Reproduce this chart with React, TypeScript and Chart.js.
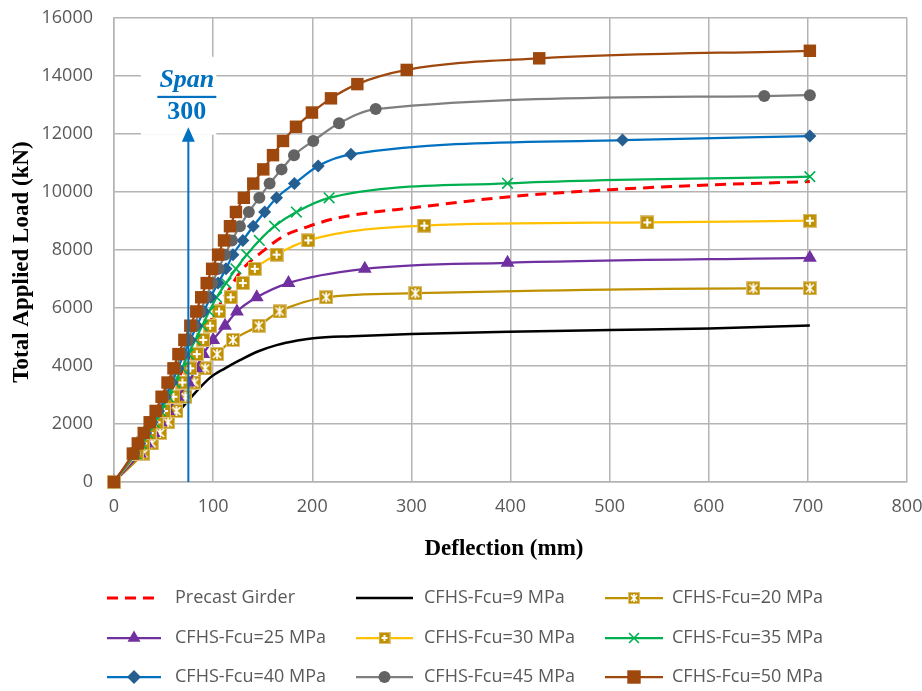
import React, { useEffect, useRef } from 'react';
import { Chart, registerables } from 'chart.js';

Chart.register(...registerables);

// ---------- data (deflection mm, load kN) ----------
const precastDefl = [0, 22, 60, 90, 110, 130, 150, 170, 195, 220, 250, 300, 400, 500, 600, 702];
const precastLoad = [0, 1000, 3300, 5100, 6300, 7350, 7950, 8460, 8800, 9060, 9250, 9450, 9840, 10080, 10240, 10360];

const fcu9Defl = [0, 68, 77, 97, 112, 127, 145, 164, 185, 201, 240, 300, 398, 500, 600, 702];
const fcu9Load = [0, 2540, 2890, 3600, 3920, 4200, 4500, 4720, 4880, 4960, 5030, 5100, 5180, 5240, 5290, 5400];

const fcu20Defl = [0, 29.6, 38, 46.5, 54.6, 63, 72, 81, 92, 104, 120, 146, 167, 214, 304, 645, 702];
const fcu20Load = [0, 980, 1330, 1690, 2060, 2450, 2940, 3430, 3920, 4410, 4900, 5390, 5880, 6370, 6510, 6680, 6680];

const fcu25Defl = [0, 26, 33, 40, 47, 54.5, 64, 75, 83, 90, 100, 112, 124, 144, 176, 253, 397, 702];
const fcu25Load = [0, 980, 1330, 1690, 2060, 2450, 2940, 3430, 3920, 4410, 4900, 5390, 5880, 6370, 6860, 7350, 7560, 7730];

const fcu30Defl = [0, 23, 29.5, 36, 43, 50.5, 60, 69, 77, 83.5, 90, 97, 106, 117.7, 130, 142, 164, 196, 313, 538, 702];
const fcu30Load = [0, 980, 1330, 1690, 2060, 2450, 2940, 3430, 3920, 4410, 4900, 5390, 5880, 6370, 6860, 7350, 7840, 8330, 8840, 8950, 9010];

const fcu35Defl = [0, 21.5, 27.5, 34, 40.5, 47, 54.5, 61.5, 68.5, 75, 82, 89, 96, 103.6, 113, 123, 134, 146.6, 162, 184, 217, 397, 702];
const fcu35Load = [0, 980, 1330, 1690, 2060, 2450, 2940, 3430, 3920, 4410, 4900, 5390, 5880, 6370, 6860, 7350, 7840, 8330, 8820, 9310, 9800, 10300, 10530];

const fcu40Defl = [0, 20.5, 26, 32, 38.5, 45, 52, 58.5, 64.5, 70.5, 77, 83.5, 90.5, 97.5, 105, 113, 120, 130, 140.5, 152, 164, 182, 206, 239, 513, 702];
const fcu40Load = [0, 980, 1330, 1690, 2060, 2450, 2940, 3430, 3920, 4410, 4900, 5390, 5880, 6370, 6860, 7350, 7840, 8330, 8820, 9310, 9800, 10290, 10900, 11300, 11790, 11930];

const fcu45Defl = [0, 20, 25, 31, 37.5, 43.5, 50, 56, 62.5, 68, 74.5, 80.5, 87, 93, 99, 105.5, 112, 119, 127, 136, 146.6, 157, 169, 181.6, 201, 227, 264, 656, 702];
const fcu45Load = [0, 980, 1330, 1690, 2060, 2450, 2940, 3430, 3920, 4410, 4900, 5390, 5880, 6370, 6860, 7350, 7840, 8330, 8820, 9310, 9800, 10290, 10780, 11270, 11760, 12370, 12860, 13310, 13340];

const fcu50Defl = [0, 19, 24, 30, 36, 42, 48, 54, 60, 65, 71, 77, 83, 88, 93.5, 99, 105, 111, 117, 123, 131, 140.5, 150.6, 160.4, 170.5, 183.6, 199.7, 218.9, 245.5, 295.3, 429, 702];
const fcu50Load = [0, 980, 1330, 1690, 2060, 2450, 2940, 3430, 3920, 4410, 4900, 5390, 5880, 6370, 6860, 7350, 7840, 8330, 8820, 9310, 9800, 10290, 10780, 11270, 11760, 12250, 12740, 13230, 13720, 14210, 14610, 14870];

const seriesLabels = [
  'Precast Girder', 'CFHS-Fcu=9 MPa', 'CFHS-Fcu=20 MPa',
  'CFHS-Fcu=25 MPa', 'CFHS-Fcu=30 MPa', 'CFHS-Fcu=35 MPa',
  'CFHS-Fcu=40 MPa', 'CFHS-Fcu=45 MPa', 'CFHS-Fcu=50 MPa',
];

const xTickMin = 0, xTickMax = 800, xTickStep = 100;
const yTickMin = 0, yTickMax = 16000, yTickStep = 2000;
const xTitle = 'Deflection (mm)';
const yTitle = 'Total Applied Load (kN)';

const spanLabelTop = 'Span';
const spanLabelBottom = '300';
const spanDeflection = 75; // mm, span/300
const arrowTipLoad = 12230;

// ---------- helpers ----------
const GRID = '#B4B4B4';
const TICK_FONT = 'Open Sans';
const SERIF = 'Liberation Serif';

function squareMarker(kind: 'plus' | 'star', size: number) {
  const c = document.createElement('canvas');
  c.width = size; c.height = size;
  const g = c.getContext('2d')!;
  g.fillStyle = '#BF9000';
  g.fillRect(0, 0, size, size);
  g.strokeStyle = '#DCC07A';
  g.lineWidth = 1;
  g.strokeRect(0.5, 0.5, size - 1, size - 1);
  g.strokeStyle = '#FFFFFF';
  g.lineCap = 'butt';
  const m = size / 2, a = 3, b = size - 3;
  g.beginPath();
  if (kind === 'plus') {
    g.lineWidth = 2;
    g.moveTo(m, a); g.lineTo(m, b);
    g.moveTo(a, m); g.lineTo(b, m);
  } else {
    g.lineWidth = 1.7;
    g.moveTo(a, a); g.lineTo(b, b);
    g.moveTo(b, a); g.lineTo(a, b);
    g.moveTo(m, a - 1); g.lineTo(m, b + 1);
  }
  g.stroke();
  return c;
}

function pts(xs: number[], ys: number[]) {
  return xs.map((x, i) => ({ x, y: ys[i] }));
}

type MarkerKind = 'none' | 'rect' | 'circle' | 'rectRot' | 'triangle' | 'crossRot' | HTMLCanvasElement;

function drawMarker(ctx: CanvasRenderingContext2D, kind: MarkerKind, x: number, y: number, r: number, fill: string) {
  if (kind === 'none') return;
  ctx.save();
  if (kind instanceof HTMLCanvasElement) {
    ctx.drawImage(kind, x - kind.width / 2, y - kind.height / 2);
    ctx.restore();
    return;
  }
  ctx.fillStyle = fill; ctx.strokeStyle = fill; ctx.lineWidth = 1.6;
  ctx.beginPath();
  if (kind === 'rect') {
    const s = r * Math.SQRT1_2;
    ctx.rect(x - s, y - s, 2 * s, 2 * s);
    ctx.fill();
  } else if (kind === 'circle') {
    ctx.arc(x, y, r, 0, Math.PI * 2);
    ctx.fill();
  } else if (kind === 'rectRot') {
    ctx.moveTo(x, y - r); ctx.lineTo(x + r, y); ctx.lineTo(x, y + r); ctx.lineTo(x - r, y); ctx.closePath();
    ctx.fill();
  } else if (kind === 'triangle') {
    const w = r * 0.866;
    ctx.moveTo(x, y - r); ctx.lineTo(x + w, y + r / 2); ctx.lineTo(x - w, y + r / 2); ctx.closePath();
    ctx.fill();
  } else if (kind === 'crossRot') {
    const s = r * Math.SQRT1_2;
    ctx.moveTo(x - s, y - s); ctx.lineTo(x + s, y + s);
    ctx.moveTo(x + s, y - s); ctx.lineTo(x - s, y + s);
    ctx.stroke();
  }
  ctx.restore();
}

export default function App() {
  const ref = useRef<HTMLCanvasElement | null>(null);

  useEffect(() => {
    document.body.style.margin = '0';
    const canvas = ref.current!;
    const starMarker = squareMarker('star', 14);
    const plusMarker = squareMarker('plus', 14);
    const starLegend = squareMarker('star', 12);
    const plusLegend = squareMarker('plus', 12);

    const defs = [
      { d: pts(precastDefl, precastLoad), color: '#FF0000', mk: 'none' as MarkerKind, r: 0, fill: '#FF0000', dash: [11, 7], w: 3, lmk: 'none' as MarkerKind, lr: 0 },
      { d: pts(fcu9Defl, fcu9Load), color: '#000000', mk: 'none' as MarkerKind, r: 0, fill: '#000', dash: [], w: 2.5, lmk: 'none' as MarkerKind, lr: 0 },
      { d: pts(fcu20Defl, fcu20Load), color: '#BF9000', mk: starMarker as MarkerKind, r: 7, fill: '#BF9000', dash: [], w: 2.25, lmk: starLegend as MarkerKind, lr: 6 },
      { d: pts(fcu25Defl, fcu25Load), color: '#7030A0', mk: 'triangle' as MarkerKind, r: 8, fill: '#7030A0', dash: [], w: 2.25, lmk: 'triangle' as MarkerKind, lr: 7.5 },
      { d: pts(fcu30Defl, fcu30Load), color: '#FFC000', mk: plusMarker as MarkerKind, r: 7, fill: '#BF9000', dash: [], w: 2.25, lmk: plusLegend as MarkerKind, lr: 6 },
      { d: pts(fcu35Defl, fcu35Load), color: '#00B050', mk: 'crossRot' as MarkerKind, r: 7.5, fill: '#00B050', dash: [], w: 2.25, lmk: 'crossRot' as MarkerKind, lr: 7 },
      { d: pts(fcu40Defl, fcu40Load), color: '#0070C0', mk: 'rectRot' as MarkerKind, r: 6.5, fill: '#255E91', dash: [], w: 2.25, lmk: 'rectRot' as MarkerKind, lr: 7 },
      { d: pts(fcu45Defl, fcu45Load), color: '#7F7F7F', mk: 'circle' as MarkerKind, r: 6, fill: '#636363', dash: [], w: 2.25, lmk: 'circle' as MarkerKind, lr: 6 },
      { d: pts(fcu50Defl, fcu50Load), color: '#9E480E', mk: 'rect' as MarkerKind, r: 8.8, fill: '#9E480E', dash: [], w: 2.25, lmk: 'rect' as MarkerKind, lr: 9.5 },
    ];

    const datasets = defs.map((s, i) => ({
      label: seriesLabels[i],
      data: s.d,
      showLine: true,
      borderColor: s.color,
      borderWidth: s.w,
      borderDash: s.dash,
      backgroundColor: s.fill,
      pointStyle: s.mk === 'none' ? 'circle' : (s.mk as any),
      pointRadius: s.mk === 'none' ? 0 : s.r,
      pointBackgroundColor: s.fill,
      pointBorderColor: s.fill,
      pointBorderWidth: s.mk === 'crossRot' ? 1.6 : 0,
      pointHoverRadius: 0,
      tension: 0.4,
      cubicInterpolationMode: 'monotone' as const,
      fill: false,
      clip: false as any,
      order: defs.length - 1 - i,
    }));

    const annotationPlugin = {
      id: 'spanAnnotation',
      beforeDatasetsDraw(chart: any) {
        const { ctx, scales } = chart;
        const cx = scales.x.getPixelForValue(spanDeflection);
        const tip = scales.y.getPixelForValue(arrowTipLoad);
        ctx.save();
        ctx.fillStyle = '#FFFFFF';
        ctx.fillRect(cx - 47.5, tip - 70.5, 75.5, 78);
        ctx.restore();
      },
      afterDatasetsDraw(chart: any) {
        const { ctx, scales } = chart;
        const cx = scales.x.getPixelForValue(spanDeflection);
        const tip = scales.y.getPixelForValue(arrowTipLoad);
        const base = scales.y.getPixelForValue(0);
        ctx.save();
        ctx.strokeStyle = '#0070C0';
        ctx.fillStyle = '#0070C0';
        ctx.lineWidth = 2;
        ctx.beginPath();
        ctx.moveTo(cx, base);
        ctx.lineTo(cx, tip + 12);
        ctx.stroke();
        ctx.beginPath();
        ctx.moveTo(cx, tip);
        ctx.lineTo(cx + 6.5, tip + 14.5);
        ctx.lineTo(cx - 6.5, tip + 14.5);
        ctx.closePath();
        ctx.fill();
        const tx = cx - 1.5;
        ctx.textAlign = 'center';
        ctx.textBaseline = 'alphabetic';
        ctx.font = `italic bold 26px "${SERIF}"`;
        ctx.fillText(spanLabelTop, tx, tip - 40.5);
        ctx.fillRect(tx - 29.5, tip - 31.5, 59, 2.2);
        ctx.font = `bold 26px "${SERIF}"`;
        ctx.fillText(spanLabelBottom, tx, tip - 8);
        ctx.restore();
      },
    };

    const titlesAndLegendPlugin = {
      id: 'titlesLegend',
      afterDraw(chart: any) {
        const ctx: CanvasRenderingContext2D = chart.ctx;
        // axis titles
        ctx.save();
        ctx.fillStyle = '#000000';
        ctx.font = `bold 23px "${SERIF}"`;
        ctx.textAlign = 'center';
        ctx.textBaseline = 'middle';
        ctx.fillText(xTitle, 504, 549);
        ctx.translate(22, 262);
        ctx.rotate(-Math.PI / 2);
        ctx.fillText(yTitle, 0, 0);
        ctx.restore();

        // legend
        const colLine = [[107, 161], [356, 413], [605, 663]];
        const colText = [175, 424, 672];
        const rowY = [598, 638, 677];
        ctx.save();
        defs.forEach((s, i) => {
          const col = i % 3, row = Math.floor(i / 3);
          const y = rowY[row];
          const [x0, x1] = colLine[col];
          ctx.save();
          ctx.strokeStyle = s.color;
          ctx.lineWidth = s.w;
          ctx.setLineDash(s.dash);
          ctx.beginPath();
          ctx.moveTo(x0, y);
          ctx.lineTo(x1, y);
          ctx.stroke();
          ctx.restore();
          drawMarker(ctx, s.lmk, (x0 + x1) / 2, y, s.lr, s.fill);
          ctx.fillStyle = '#595959';
          ctx.font = `18px "${TICK_FONT}"`;
          ctx.textAlign = 'left';
          ctx.textBaseline = 'middle';
          ctx.fillText(seriesLabels[i], colText[col], y);
        });
        ctx.restore();
      },
    };

    const chart = new Chart(canvas, {
      type: 'scatter',
      data: { datasets: datasets as any },
      options: {
        responsive: false,
        animation: false,
        events: [],
        layout: { padding: { top: 18, right: 15, bottom: 124, left: 0 } },
        plugins: { legend: { display: false }, tooltip: { enabled: false } },
        scales: {
          x: {
            type: 'linear',
            min: xTickMin,
            max: xTickMax,
            ticks: {
              stepSize: xTickStep,
              color: '#595959',
              font: { family: TICK_FONT, size: 18 },
              padding: 14,
              callback: (v: any) => String(v),
            },
            grid: { color: GRID, lineWidth: 1.5, drawTicks: false },
            border: { color: GRID, width: 1.5 },
            title: { display: false },
            afterFit: (s: any) => { s.height = 85; s.paddingLeft = 0; s.paddingRight = 0; },
          },
          y: {
            type: 'linear',
            min: yTickMin,
            max: yTickMax,
            ticks: {
              stepSize: yTickStep,
              color: '#595959',
              font: { family: TICK_FONT, size: 18 },
              padding: 21,
              callback: (v: any) => String(v),
            },
            grid: { color: GRID, lineWidth: 1.5, drawTicks: false },
            border: { color: GRID, width: 1.5 },
            title: { display: false },
            afterFit: (s: any) => { s.width = 114; s.paddingTop = 0; s.paddingBottom = 0; },
          },
        },
      },
      plugins: [annotationPlugin, titlesAndLegendPlugin],
    });
    return () => chart.destroy();
  }, []);

  return (
    <div style={{ position: 'fixed', left: 0, top: 0, width: 922, height: 691, background: '#FFFFFF' }}>
      <canvas ref={ref} width={922} height={691} />
    </div>
  );
}
